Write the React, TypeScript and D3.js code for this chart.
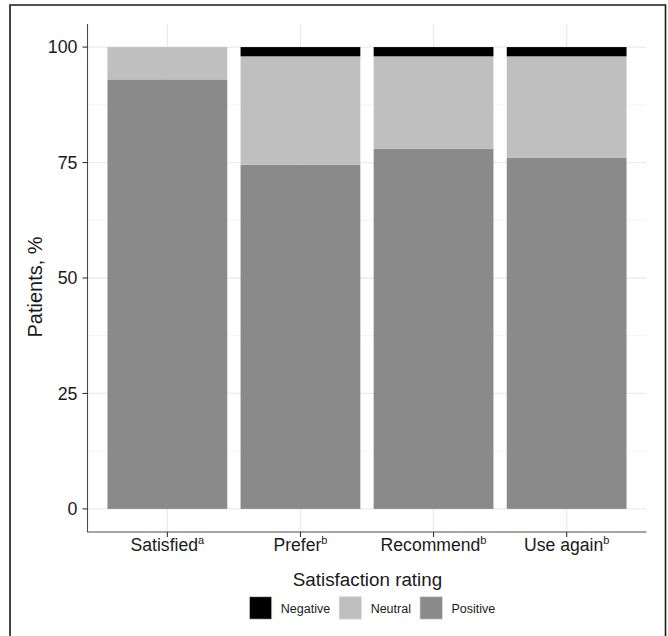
import React from "react";
import * as d3 from "d3";

const categories = ["Satisfied", "Prefer", "Recommend", "Use again"];
const superscripts = ["a", "b", "b", "b"];
const positive = [93, 74.5, 78, 76];
const neutral = [7, 23.5, 20, 22];
const negative = [0, 2, 2, 2];
const yTicks = [0, 25, 50, 75, 100];
const yMinor = [12.5, 37.5, 62.5, 87.5];
const legendLabels = ["Negative", "Neutral", "Positive"];
const colors: Record<string, string> = { Negative: "#000000", Neutral: "#bfbfbf", Positive: "#8a8a8a" };

const W = 668;
const H = 636;
const FONT = "'Liberation Sans', Arial, Helvetica, sans-serif";

function textWidth(t: string, size: number) {
  const c = document.createElement("canvas").getContext("2d");
  if (!c) return t.length * size * 0.5;
  c.font = `${size}px 'Liberation Sans', Arial`;
  return c.measureText(t).width;
}

export default function App() {
  const panel = { left: 87.5, right: 646.5, top: 24, bottom: 532 };
  const step = (panel.right - panel.left) / 4.2;
  const x = (i: number) => panel.left + step * (0.6 + i);
  const barW = step * 0.9;
  const y = d3.scaleLinear().domain([-5, 105]).range([panel.bottom, panel.top]);

  const stackData = categories.map((c, i) => ({ cat: c, Positive: positive[i], Neutral: neutral[i], Negative: negative[i] }));
  const stack = d3.stack<any>().keys(["Positive", "Neutral", "Negative"]);
  const series = stack(stackData);

  // legend layout
  const keySize = 22.5;
  const legendY = 596.7;
  const legendFs = 12.5;
  const gap = 9;
  const items: { label: string; kx: number; tx: number }[] = [];
  const widths = legendLabels.map((l) => textWidth(l, legendFs));
  const total = widths.reduce((a, w) => a + keySize + gap + w + gap, 0) - gap;
  let cx = 249.3;
  void total;
  legendLabels.forEach((l, i) => {
    items.push({ label: l, kx: cx, tx: cx + keySize + 9 });
    cx += keySize + 9 + widths[i] + gap;
  });

  return (
    <svg width={W} height={H} style={{ position: "absolute", left: 0, top: 0, background: "#fff" }} fontFamily={FONT}>
      <rect x={0} y={0} width={W} height={H} fill="#fff" />
      {/* outer frame */}
      <path d={`M10,${H + 2} L10,5 L665.5,5 L665.5,${H + 2}`} fill="none" stroke="#1a1a1a" strokeWidth={1.6} />
      {/* grid */}
      {yMinor.map((v) => (
        <line key={"m" + v} x1={panel.left} x2={panel.right} y1={y(v)} y2={y(v)} stroke="#f3f3f3" strokeWidth={1} />
      ))}
      {yTicks.map((v) => (
        <line key={"g" + v} x1={panel.left} x2={panel.right} y1={y(v)} y2={y(v)} stroke="#ebebeb" strokeWidth={1.3} />
      ))}
      {categories.map((c, i) => (
        <line key={"vg" + c} x1={x(i)} x2={x(i)} y1={panel.top} y2={panel.bottom} stroke="#ebebeb" strokeWidth={1.3} />
      ))}
      {/* bars */}
      {series.map((s) =>
        s.map((d, i) => {
          const h = y(d[0]) - y(d[1]);
          if (h <= 0) return null;
          return (
            <rect
              key={s.key + i}
              x={x(i) - barW / 2}
              y={y(d[1])}
              width={barW}
              height={h}
              fill={colors[s.key]}
            />
          );
        })
      )}
      {/* axes */}
      <line x1={panel.left} x2={panel.left} y1={panel.top} y2={panel.bottom} stroke="#4d4d4d" strokeWidth={1.1} />
      <line x1={panel.left - 0.5} x2={panel.right} y1={panel.bottom} y2={panel.bottom} stroke="#4d4d4d" strokeWidth={1.1} />
      {yTicks.map((v) => (
        <g key={"yt" + v}>
          <line x1={panel.left - 5} x2={panel.left} y1={y(v)} y2={y(v)} stroke="#333" strokeWidth={1.1} />
          <text x={panel.left - 10} y={y(v) + 6.3} textAnchor="end" fontSize={17.8} fill="#1a1a1a">
            {v}
          </text>
        </g>
      ))}
      {categories.map((c, i) => (
        <g key={"xt" + c}>
          <line x1={x(i)} x2={x(i)} y1={panel.bottom} y2={panel.bottom + 5} stroke="#333" strokeWidth={1.1} />
          <text x={x(i)} y={551.3} textAnchor="middle" fontSize={17.6} fill="#1a1a1a">
            {c}
            <tspan fontSize={11} dy={-7}>
              {superscripts[i]}
            </tspan>
          </text>
        </g>
      ))}
      {/* titles */}
      <text x={367.5} y={585.7} textAnchor="middle" fontSize={18.8} fill="#1a1a1a">
        Satisfaction rating
      </text>
      <text transform="translate(41.5,287) rotate(-90)" textAnchor="middle" fontSize={20} fill="#1a1a1a">
        Patients, %
      </text>
      {/* legend */}
      {items.map((it) => (
        <g key={it.label}>
          <rect x={it.kx} y={legendY} width={keySize} height={keySize} fill={colors[it.label]} stroke="#e0e0e0" strokeWidth={0.8} />
          <text x={it.tx} y={613.3} fontSize={legendFs} fill="#1a1a1a">
            {it.label}
          </text>
        </g>
      ))}
    </svg>
  );
}
